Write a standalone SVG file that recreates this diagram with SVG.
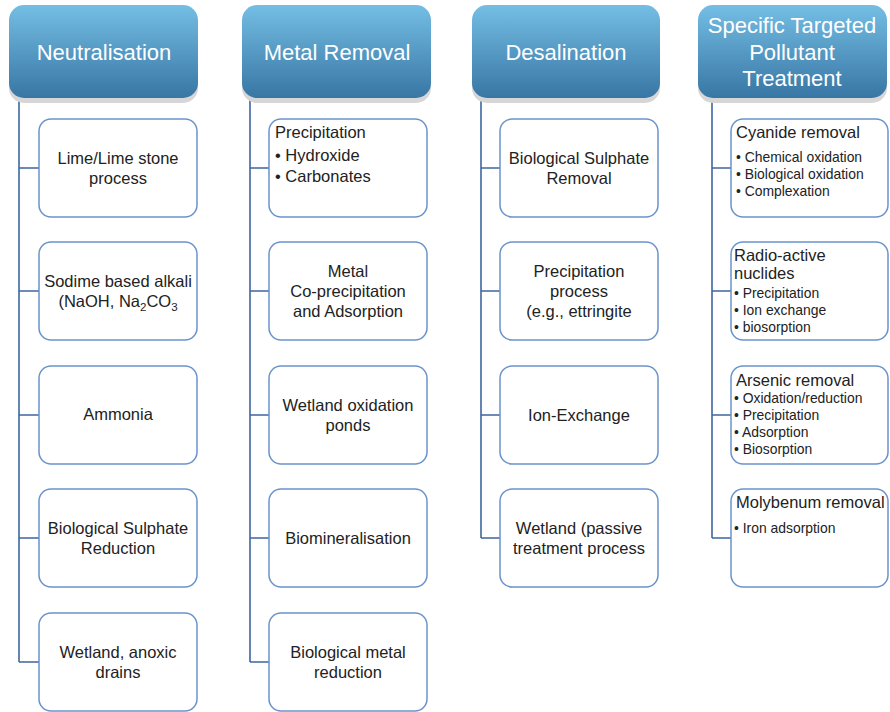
<svg xmlns="http://www.w3.org/2000/svg" width="890" height="712" viewBox="0 0 890 712">
<defs>
<linearGradient id="hg" x1="0" y1="0" x2="0" y2="1">
<stop offset="0" stop-color="#74bee4"/>
<stop offset="1" stop-color="#3876a4"/>
</linearGradient>
<style>
.hdr{fill:url(#hg)}
.shd{fill:#d6d6d6}
.ht{font-family:"Liberation Sans",Arial,sans-serif;font-size:22px;fill:#fff;text-anchor:middle}
.box{fill:#fff;stroke:#6a93cc;stroke-width:1.5}
.t{font-family:"Liberation Sans",Arial,sans-serif;font-size:16.5px;fill:#222;text-anchor:middle}
.tl{font-family:"Liberation Sans",Arial,sans-serif;font-size:16.5px;fill:#222}
.ts{font-family:"Liberation Sans",Arial,sans-serif;font-size:13.9px;fill:#222}
.c{fill:none;stroke:#3f66a0;stroke-width:1.6}
</style>
</defs>
<rect width="890" height="712" fill="#fff"/>
<g id="connectors">
<path class="c" d="M19,97V662M19,168H39M19,291H39M19,415H39M19,538H39M19,662H39"/>
<path class="c" d="M250,97V662M250,168H269M250,291H269M250,415H269M250,538H269M250,662H269"/>
<path class="c" d="M481,97V538M481,168H500M481,291H500M481,415H500M481,538H500"/>
<path class="c" d="M712,97V538M712,168H731M712,291H731M712,415H731M712,538H731"/>
</g>
<g id="h1"><rect class="shd" x="9" y="10" width="189" height="93" rx="15"/><rect class="hdr" x="9" y="5" width="189" height="93" rx="15"/><text class="ht" x="104" y="60">Neutralisation</text></g>
<g id="h2"><rect class="shd" x="242" y="10" width="189" height="93" rx="15"/><rect class="hdr" x="242" y="5" width="189" height="93" rx="15"/><text class="ht" x="337" y="60">Metal Removal</text></g>
<g id="h3"><rect class="shd" x="472" y="10" width="188" height="93" rx="15"/><rect class="hdr" x="472" y="5" width="188" height="93" rx="15"/><text class="ht" x="566" y="60">Desalination</text></g>
<g id="h4"><rect class="shd" x="698" y="10" width="189" height="93" rx="15"/><rect class="hdr" x="698" y="5" width="189" height="93" rx="15"/><text class="ht" x="792" y="33">Specific Targeted</text><text class="ht" x="792" y="60">Pollutant</text><text class="ht" x="792" y="86">Treatment</text></g>

<g id="n1a"><rect class="box" x="39" y="119" width="158" height="98" rx="12"/><text class="t" x="118" y="164">Lime/Lime stone</text><text class="t" x="118" y="184">process</text></g>
<g id="n1b"><rect class="box" x="39" y="242" width="158" height="98" rx="12"/><text class="t" x="118" y="287">Sodime based alkali</text><text class="t" x="118" y="307">(NaOH, Na<tspan font-size="11.5" dy="4">2</tspan><tspan dy="-4">CO</tspan><tspan font-size="11.5" dy="4">3</tspan></text></g>
<g id="n1c"><rect class="box" x="39" y="366" width="158" height="98" rx="12"/><text class="t" x="118" y="420">Ammonia</text></g>
<g id="n1d"><rect class="box" x="39" y="489" width="158" height="98" rx="12"/><text class="t" x="118" y="534">Biological Sulphate</text><text class="t" x="118" y="554">Reduction</text></g>
<g id="n1e"><rect class="box" x="39" y="613" width="158" height="98" rx="12"/><text class="t" x="118" y="658">Wetland, anoxic</text><text class="t" x="118" y="678">drains</text></g>

<g id="n2a"><rect class="box" x="269" y="119" width="158" height="98" rx="12"/><text class="tl" x="275" y="138">Precipitation</text><text class="tl" x="275" y="161">• Hydroxide</text><text class="tl" x="275" y="182">• Carbonates</text></g>
<g id="n2b"><rect class="box" x="269" y="242" width="158" height="98" rx="12"/><text class="t" x="348" y="277">Metal</text><text class="t" x="348" y="297">Co-precipitation</text><text class="t" x="348" y="317">and Adsorption</text></g>
<g id="n2c"><rect class="box" x="269" y="366" width="158" height="98" rx="12"/><text class="t" x="348" y="411">Wetland oxidation</text><text class="t" x="348" y="431">ponds</text></g>
<g id="n2d"><rect class="box" x="269" y="489" width="158" height="98" rx="12"/><text class="t" x="348" y="544">Biomineralisation</text></g>
<g id="n2e"><rect class="box" x="269" y="613" width="158" height="98" rx="12"/><text class="t" x="348" y="658">Biological metal</text><text class="t" x="348" y="678">reduction</text></g>

<g id="n3a"><rect class="box" x="500" y="119" width="158" height="98" rx="12"/><text class="t" x="579" y="164">Biological Sulphate</text><text class="t" x="579" y="184">Removal</text></g>
<g id="n3b"><rect class="box" x="500" y="242" width="158" height="98" rx="12"/><text class="t" x="579" y="277">Precipitation</text><text class="t" x="579" y="297">process</text><text class="t" x="579" y="317">(e.g., ettringite</text></g>
<g id="n3c"><rect class="box" x="500" y="366" width="158" height="98" rx="12"/><text class="t" x="579" y="421">Ion-Exchange</text></g>
<g id="n3d"><rect class="box" x="500" y="489" width="158" height="98" rx="12"/><text class="t" x="579" y="534">Wetland (passive</text><text class="t" x="579" y="554">treatment process</text></g>

<g id="n4a"><rect class="box" x="731" y="119" width="157" height="98" rx="12"/><text class="tl" x="736" y="138">Cyanide removal</text><text class="ts" x="736" y="162">• Chemical oxidation</text><text class="ts" x="736" y="179">• Biological oxidation</text><text class="ts" x="736" y="196">• Complexation</text></g>
<g id="n4b"><rect class="box" x="731" y="242" width="157" height="98" rx="12"/><text class="tl" x="734" y="261">Radio-active</text><text class="tl" x="734" y="279">nuclides</text><text class="ts" x="734" y="298">• Precipitation</text><text class="ts" x="734" y="315">• Ion exchange</text><text class="ts" x="734" y="332">• biosorption</text></g>
<g id="n4c"><rect class="box" x="731" y="366" width="157" height="98" rx="12"/><text class="tl" x="736" y="386">Arsenic removal</text><text class="ts" x="734" y="403">• Oxidation/reduction</text><text class="ts" x="734" y="420">• Precipitation</text><text class="ts" x="734" y="437">• Adsorption</text><text class="ts" x="734" y="454">• Biosorption</text></g>
<g id="n4d"><rect class="box" x="731" y="489" width="157" height="98" rx="12"/><text class="tl" x="736" y="508">Molybenum removal</text><text class="ts" x="734" y="533">• Iron adsorption</text></g>
</svg>
